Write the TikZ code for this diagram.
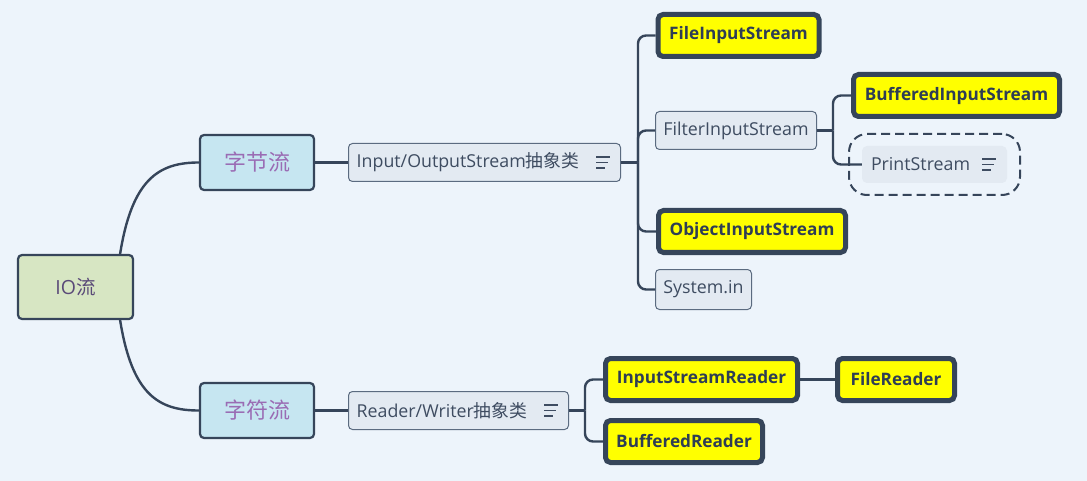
\documentclass[tikz,border=0pt]{standalone}
\usepackage{fontspec}
\setmainfont{Open Sans}
\newfontfamily\cjk{Noto Sans CJK SC}
\usetikzlibrary{calc}
\definecolor{bg}{HTML}{EDF4FB}
\definecolor{ln}{HTML}{36455A}
\definecolor{rootfill}{HTML}{D7E6C3}
\definecolor{mainfill}{HTML}{C6E6F1}
\definecolor{subfill}{HTML}{E3EAF2}
\definecolor{subdraw}{HTML}{5B6B80}
\definecolor{yel}{HTML}{FFFF00}
\definecolor{purp}{HTML}{9A6CB4}
\definecolor{roottxt}{HTML}{5A4A78}
\definecolor{txt}{HTML}{3E4C61}
\definecolor{boldtxt}{HTML}{2E3D55}
\tikzset{
  box/.style={rounded corners=4pt, draw=ln, inner sep=0pt, align=center},
  rootbox/.style={box, fill=rootfill, line width=2.2pt, text=roottxt,
    font=\fontsize{19.5}{22}\selectfont},
  mainbox/.style={box, fill=mainfill, line width=2.2pt, text=purp,
    font=\cjk\fontsize{22}{26}\selectfont},
  subbox/.style={box, fill=subfill, draw=subdraw, line width=1pt, text=txt,
    font=\fontsize{17.8}{20}\selectfont},
  hlbox/.style={box, fill=yel, line width=5pt, rounded corners=5pt, text=boldtxt,
    font=\bfseries\fontsize{17.2}{20}\selectfont},
  lbl/.style={inner sep=0pt, anchor=west, text=txt, font=\fontsize{17.8}{20}\selectfont},
  conn/.style={draw=ln, line width=2.4pt, rounded corners=8pt},
  icon/.style={draw=txt, line width=1.5pt},
}
\newcommand{\menuicon}[1]{%
  \draw[icon] ($(#1.east)+(-25,-5.5)$) -- ++(14,0);
  \draw[icon] ($(#1.east)+(-25,0)$) -- ++(11.5,0);
  \draw[icon] ($(#1.east)+(-25,5.5)$) -- ++(9,0);}
\begin{document}
\begin{tikzpicture}[x=1pt,y=-1pt]
\fill[bg] (0,0) rectangle (1087,481);
\useasboundingbox (0,0) rectangle (1087,481);

% level 0 and 1
\node[rootbox, minimum width=115pt, minimum height=64pt] (root) at (75.5,287) {IO{\cjk 流}};
\node[mainbox, minimum width=114pt, minimum height=55pt] (b1) at (257,162.5) {字节流};
\node[mainbox, minimum width=114pt, minimum height=55pt] (b2) at (257,410.5) {字符流};

% abstract classes
\node[subbox, minimum width=272pt, minimum height=38pt] (s1) at (484.5,162.5) {};
\node[lbl] (s1t) at ($(s1.west)+(8.5,0)$) {Input/OutputStream{\cjk 抽象类}};
\node[subbox, minimum width=220pt, minimum height=38pt] (s2) at (458.5,410.5) {};
\node[lbl] (s2t) at ($(s2.west)+(8.5,0)$) {Reader/Writer{\cjk 抽象类}};

% byte streams
\node[hlbox, minimum width=161pt, minimum height=42pt] (f1) at (738.5,35.5) {FileInputStream};
\node[subbox, minimum width=161pt, minimum height=38pt] (f2) at (736,130.5) {FilterInputStream};
\node[hlbox, minimum width=187pt, minimum height=42pt] (f3) at (752,231.5) {ObjectInputStream};
\node[subbox, minimum width=96pt, minimum height=40pt] (f4) at (703.5,289.5) {System.in};
\node[hlbox, minimum width=206pt, minimum height=42pt] (g1) at (956.5,95.5) {BufferedInputStream};
\node[box, dashed, dash pattern=on 9pt off 5pt, line width=2pt, rounded corners=18pt, fill=bg,
      minimum width=171pt, minimum height=61pt] (g2) at (934.5,164.5) {};
\node[box, draw=none, fill=subfill, rounded corners=5pt,
      minimum width=145pt, minimum height=37pt] (g2in) at (934.5,164.5) {};
\node[lbl] (g2t) at ($(g2in.west)+(9,0)$) {PrintStream};

% char streams
\node[hlbox, minimum width=192pt, minimum height=42pt] (r1) at (701.5,379.5) {InputStreamReader};
\node[hlbox, minimum width=117pt, minimum height=42pt] (r2) at (896,379.5) {FileReader};
\node[hlbox, minimum width=157pt, minimum height=42pt] (r3) at (684,441.5) {BufferedReader};

\menuicon{s1}
\menuicon{s2}
\menuicon{g2in}

% connectors
\coordinate (rt) at ($(root.north east)+(-14,0)$);
\coordinate (rb) at ($(root.south east)+(-14,0)$);
\draw[conn] (rt) .. controls ($(rt)+(12,-75)$) and ($(b1.west)+(-40,0)$) .. (b1.west);
\draw[conn] (rb) .. controls ($(rb)+(12,75)$) and ($(b2.west)+(-40,0)$) .. (b2.west);
\draw[conn] (b1.east) -- (s1.west);
\draw[conn] (b2.east) -- (s2.west);

\coordinate (j1) at (638,162.5);
\draw[conn] (s1.east) -- (j1);
\draw[conn] (j1) |- (f1.west);
\draw[conn] (j1) |- (f2.west);
\draw[conn] (j1) |- (f3.west);
\draw[conn] (j1) |- (f4.west);

\coordinate (j2) at (833,130.5);
\draw[conn] (f2.east) -- (j2);
\draw[conn] (j2) |- (g1.west);
\draw[conn] (j2) |- (g2in.west);

\coordinate (j3) at (585,410.5);
\draw[conn] (s2.east) -- (j3);
\draw[conn] (j3) |- (r1.west);
\draw[conn] (j3) |- (r3.west);
\draw[conn] (r1.east) -- (r2.west);
\end{tikzpicture}
\end{document}
